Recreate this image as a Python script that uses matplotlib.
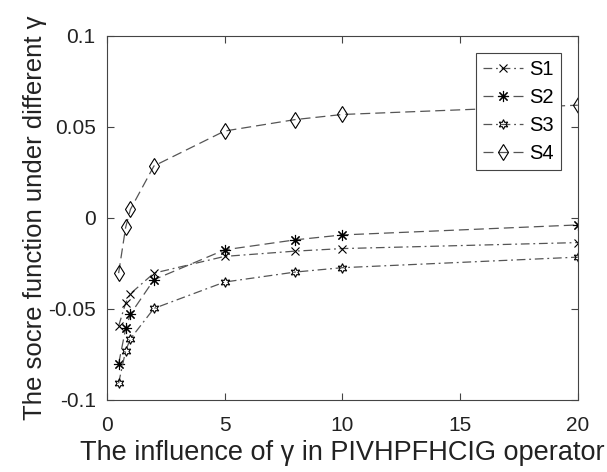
import matplotlib.pyplot as plt

plt.rcParams['font.family'] = ['Liberation Sans', 'DejaVu Sans']

# gamma values and score functions
gamma = [0.5, 0.8, 1, 2, 5, 8, 10, 20]
s1 = [-0.0595, -0.0468, -0.0417, -0.0304, -0.0212, -0.0183, -0.0169, -0.0136]
s2 = [-0.0803, -0.0608, -0.0530, -0.0340, -0.0176, -0.0121, -0.0094, -0.0039]
s3 = [-0.0909, -0.0730, -0.0665, -0.0498, -0.0353, -0.0298, -0.0274, -0.0216]
s4 = [-0.0304, -0.0052, 0.0046, 0.0285, 0.0477, 0.0540, 0.0568, 0.0619]

fig = plt.figure(figsize=(6.07, 4.72), dpi=100)
ax = fig.add_axes([0.176, 0.153, 0.776, 0.771])

lc = '#555555'
kw = dict(color=lc, linewidth=0.9, markeredgecolor='black', markerfacecolor='none',
          markeredgewidth=0.8)
dashdot = (0, (7, 3, 1.5, 3))
dashed = (0, (8, 4))
ax.plot(gamma, s1, linestyle=dashdot, marker='x', markersize=5.5, label='S1', **kw)
ax.plot(gamma, s2, linestyle=dashed, marker=(8, 2, 0), markersize=8, label='S2', **kw)
ax.plot(gamma, s3, linestyle=dashdot, marker=(6, 1, 0), markersize=7, label='S3', **kw)
ax.plot(gamma, s4, linestyle=dashed, marker='d', markersize=8.5, label='S4', **kw)

ax.set_xlim(0, 20)
ax.set_ylim(-0.1, 0.1)
ax.set_xticks([0, 5, 10, 15, 20])
ax.set_yticks([-0.1, -0.05, 0, 0.05, 0.1])
ax.set_yticklabels(['-0.1', '-0.05', '0', '0.05', '0.1'])
ax.tick_params(direction='in', top=True, right=True, labelsize=15, length=5,
               color='#444444', labelcolor='#222222')
ax.tick_params(axis='x', pad=12)
ax.tick_params(axis='y', pad=8)
for sp in ax.spines.values():
    sp.set_color('#444444')
    sp.set_linewidth(0.8)

ax.set_xlabel('The influence of γ in PIVHPFHCIG operator', fontsize=19.5,
              labelpad=3, color='#222222')
ax.set_ylabel('The socre function under different γ', fontsize=18.5,
              labelpad=1, color='#222222')

leg = ax.legend(loc='upper right', fontsize=14.5, fancybox=False, framealpha=1,
                edgecolor='#444444', handlelength=2.0, borderpad=0.35,
                labelspacing=0.45, handletextpad=0.3, borderaxespad=0.85)
leg.get_frame().set_linewidth(0.8)

fig.savefig('out.png', dpi=100)
